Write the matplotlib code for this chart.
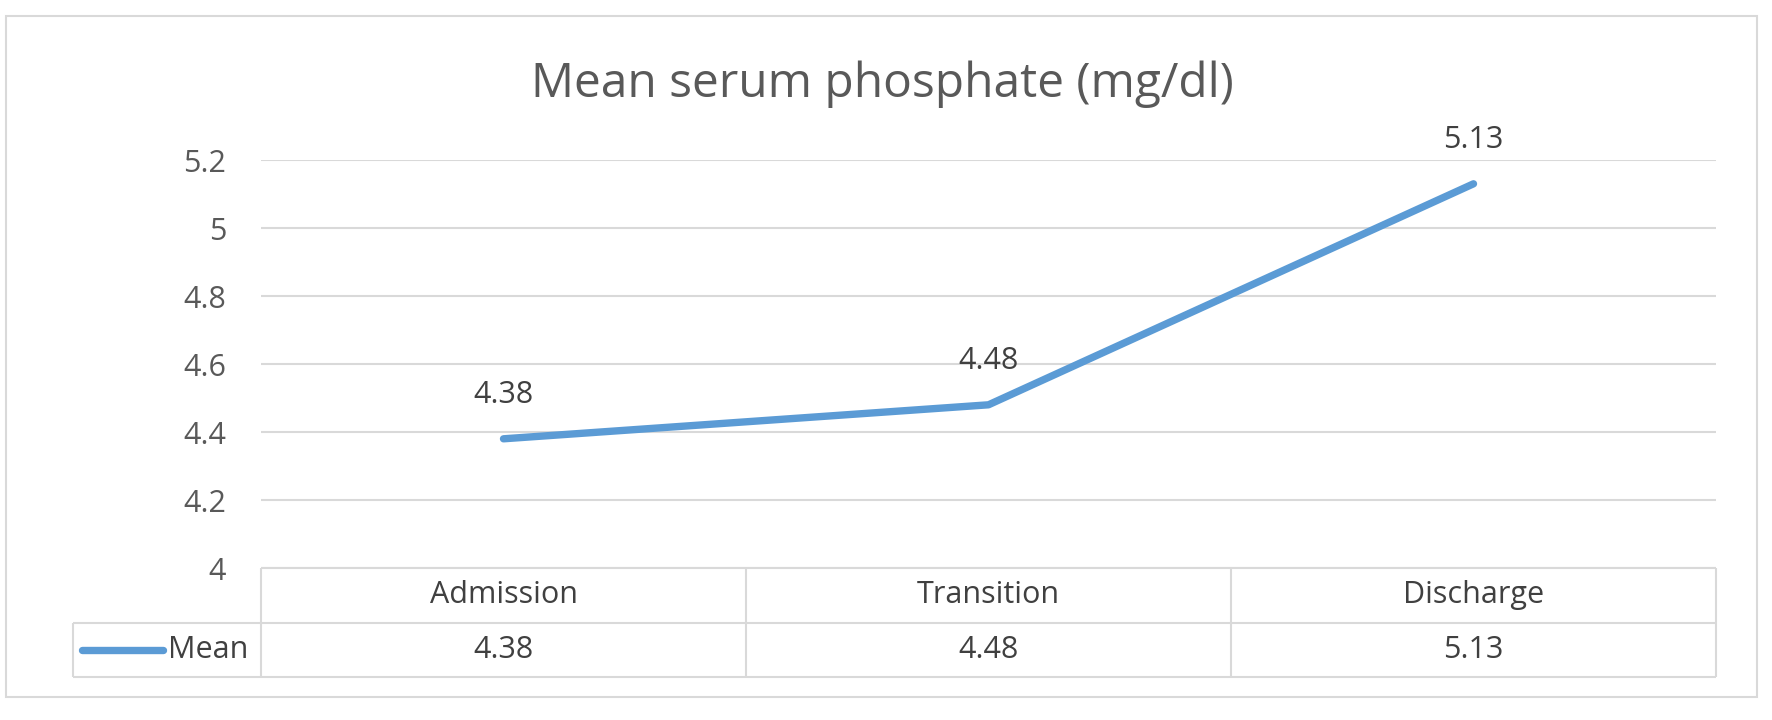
import matplotlib
matplotlib.use("Agg")
import matplotlib.pyplot as plt
from matplotlib.patches import Rectangle

categories = ["Admission", "Transition", "Discharge"]
mean_values = [4.38, 4.48, 5.13]
series_name = "Mean"
y_ticks = [4.0, 4.2, 4.4, 4.6, 4.8, 5.0, 5.2]
title = "Mean serum phosphate (mg/dl)"

W, H = 1772, 720
DPI = 100
plt.rcParams['font.family'] = ['Open Sans', 'DejaVu Sans']

LINE = "#5B9BD5"
GRID = "#D9D9D9"
TXT = "#595959"
DARK = "#404040"

fig = plt.figure(figsize=(W / DPI, H / DPI), dpi=DPI)
fig.patch.set_facecolor("white")

def fx(px):
    return px / W

def fy(py):
    return 1 - py / H

# outer chart border
fig.add_artist(Rectangle((fx(6), fy(697)), fx(1757) - fx(6), fy(16) - fy(697),
                         transform=fig.transFigure, fill=False, edgecolor=GRID, lw=1.5))

# title
fig.text(fx(882), fy(97), title, ha="center", va="baseline", fontsize=34.5, color=TXT)

# main plot
L, R, T, B = 261, 1716, 160, 568
ax = fig.add_axes([fx(L), fy(B), fx(R) - fx(L), fy(T) - fy(B)])
x = list(range(len(categories)))
ax.plot(x, mean_values, color=LINE, lw=5.3, solid_capstyle="round", solid_joinstyle="round", zorder=3)
ax.set_xlim(-0.5, len(categories) - 0.5)
ax.set_ylim(y_ticks[0], y_ticks[-1])
ax.set_yticks(y_ticks)
ax.set_yticklabels([f"{v:g}" for v in y_ticks])
ax.set_xticks([])
ax.tick_params(axis="y", length=0, pad=25, labelsize=22, labelcolor=TXT)
for s in ax.spines.values():
    s.set_visible(False)
ax.grid(axis="y", color=GRID, lw=1.5)
ax.set_axisbelow(True)
for xi, v in zip(x, mean_values):
    ax.annotate(f"{v:.2f}", (xi, v), xytext=(0, 26), textcoords="offset points",
                ha="center", va="baseline", fontsize=22, color=DARK, annotation_clip=False)

# data table
TB = 677
tab = fig.add_axes([fx(L), fy(TB), fx(R) - fx(L), fy(B) - fy(TB)], sharex=ax)
tab.set_ylim(0, 2)
tab.axis("off")
px_per_unit = (R - L) / len(categories)
mean_left = -0.5 - (L - 73) / px_per_unit
kw = dict(color=GRID, lw=1.5, clip_on=False, solid_capstyle="butt")
n = len(categories)
tab.plot([-0.5, n - 0.5], [2, 2], **kw)
tab.plot([mean_left, n - 0.5], [1, 1], **kw)
tab.plot([mean_left, n - 0.5], [0, 0], **kw)
tab.plot([mean_left, mean_left], [0, 1], **kw)
for b in range(n + 1):
    tab.plot([b - 0.5, b - 0.5], [0, 2], **kw)
for xi, c, v in zip(x, categories, mean_values):
    tab.text(xi, 1.5, c, ha="center", va="center", fontsize=22, color=DARK)
    tab.text(xi, 0.5, f"{v:.2f}", ha="center", va="center", fontsize=22, color=DARK)
# legend key in the table
k0 = -0.5 - (L - 82) / px_per_unit
k1 = -0.5 - (L - 163) / px_per_unit
tab.plot([k0, k1], [0.5, 0.5], color=LINE, lw=5.3, solid_capstyle="round", clip_on=False)
tab.text(-0.5 - (L - 168) / px_per_unit, 0.5, series_name, ha="left", va="center",
         fontsize=22, color=DARK)

fig.savefig("out.png", dpi=DPI)
